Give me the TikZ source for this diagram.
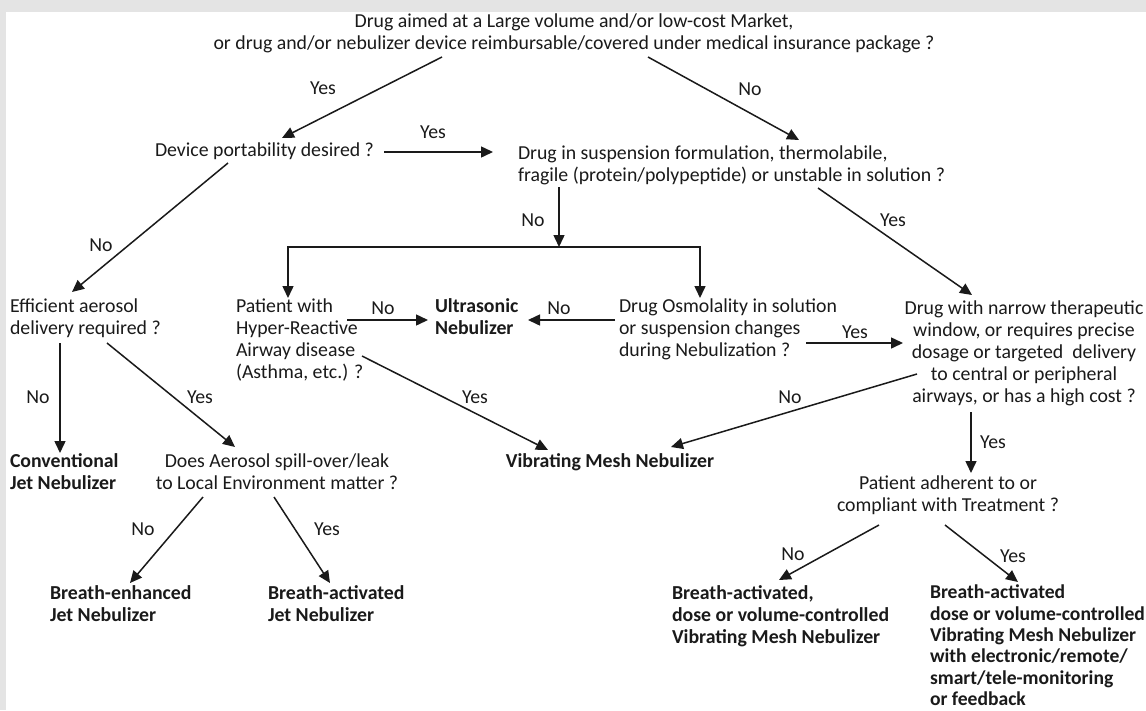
\documentclass[tikz,border=0pt]{standalone}
\usepackage{fontspec}
\setmainfont{Carlito}
\usetikzlibrary{arrows.meta}
\definecolor{bordergray}{HTML}{E4E4E4}
\definecolor{inkc}{HTML}{1A1A1A}
\begin{document}
\begin{tikzpicture}[x=1pt,y=-1pt,
  every node/.style={inner sep=0pt,outer sep=0pt,text=inkc,font=\fontsize{19.8}{22}\selectfont},
  qtext/.style={align=left},
  ctext/.style={align=center},
  restext/.style={align=left,font=\fontsize{19.8}{22}\selectfont\bfseries},
  lbl/.style={anchor=center},
  arr/.style={draw=inkc,line width=1.5pt,-{Triangle[length=12pt,width=11pt]}},
  plain/.style={draw=inkc,line width=1.5pt}]
\useasboundingbox (0,0) rectangle (1146,710);
\fill[bordergray] (0,0) rectangle (1146,710);
\fill[white] (6,12) rectangle (1146,710);

% question / result nodes
\node[ctext,anchor=north] (q1) at (574,14) {Drug aimed at a Large volume and/or low-cost Market,\\or drug and/or nebulizer device reimbursable/covered under medical insurance package ?};
\node[qtext,anchor=north west] (q2) at (155,143) {Device portability desired ?};
\node[qtext,anchor=north west] (q3) at (518,146) {Drug in suspension formulation, thermolabile,\\fragile (protein/polypeptide) or unstable in solution ?};
\node[qtext,anchor=north west] (q4) at (10,299) {Efficient aerosol\\delivery required ?};
\node[qtext,anchor=north west] (q5) at (236,299) {Patient with\\Hyper-Reactive\\Airway disease\\(Asthma, etc.) ?};
\node[restext,anchor=north west] (r1) at (435,299) {Ultrasonic\\Nebulizer};
\node[qtext,anchor=north west] (q6) at (619,299) {Drug Osmolality in solution\\or suspension changes\\during Nebulization ?};
\node[ctext,anchor=north] (q7) at (1024,301) {Drug with narrow therapeutic\\window, or requires precise\\dosage or targeted\ \ delivery\\to central or peripheral\\airways, or has a high cost ?};
\node[restext,anchor=north west] (r2) at (10,454) {Conventional\\Jet Nebulizer};
\node[ctext,anchor=north] (q8) at (277,454) {Does Aerosol spill-over/leak\\to Local Environment matter ?};
\node[restext,anchor=north] (r3) at (610,454) {Vibrating Mesh Nebulizer};
\node[ctext,anchor=north] (q9) at (948,476) {Patient adherent to or\\compliant with Treatment ?};
\node[restext,anchor=north west] (r4) at (50,586) {Breath-enhanced\\Jet Nebulizer};
\node[restext,anchor=north west] (r5) at (268,586) {Breath-activated\\Jet Nebulizer};
\node[restext,anchor=north west] (r6) at (672,586) {Breath-activated,\\dose or volume-controlled\\Vibrating Mesh Nebulizer};
\node[restext,anchor=north west,font=\fontsize{19.6}{21.4}\selectfont\bfseries] (r7) at (930,585) {Breath-activated\\dose or volume-controlled\\Vibrating Mesh Nebulizer\\with electronic/remote/\\smart/tele-monitoring\\or feedback};

% branch junction
\coordinate (j) at (559,247);

% connectors
\draw[arr] ([shift={(-132,43)}]q1.north) -- ([shift={(127,-5)}]q2.north west);
\draw[arr] ([shift={(74,43)}]q1.north) -- ([shift={(281,-6)}]q3.north west);
\draw[arr] ([shift={(229,9)}]q2.north west) -- ([shift={(-25,6)}]q3.north west);
\draw[arr] ([shift={(73,20)}]q2.north west) -- ([shift={(62,-7)}]q4.north west);
\draw[arr] ([shift={(41,41)}]q3.north west) -- (j);
\draw[arr] (j) -| ([shift={(52,-1)}]q5.north west);
\draw[arr] (j) -| ([shift={(81,-1)}]q6.north west);
\draw[arr] ([shift={(300,42)}]q3.north west) -- ([shift={(-52,-6)}]q7.north);
\draw[arr] ([shift={(111,21)}]q5.north west) -- ([shift={(-7,21)}]r1.north west);
\draw[arr] ([shift={(-4,21)}]q6.north west) -- ([shift={(93,21)}]r1.north west);
\draw[arr] ([shift={(187,44)}]q6.north west) -- ([shift={(-121,42)}]q7.north);
\draw[arr] ([shift={(126,57)}]q5.north west) -- ([shift={(-62,-4)}]r3.north);
\draw[arr] ([shift={(-107,73)}]q7.north) -- ([shift={(61,-7)}]r3.north);
\draw[arr] ([shift={(-53,111)}]q7.north) -- ([shift={(23,-3)}]q9.north);
\draw[arr] ([shift={(50,44)}]q4.north west) -- ([shift={(50,-1)}]r2.north west);
\draw[arr] ([shift={(97,44)}]q4.north west) -- ([shift={(-42,-7)}]q8.north);
\draw[arr] ([shift={(-74,43)}]q8.north) -- ([shift={(80,-3)}]r4.north west);
\draw[arr] ([shift={(-3,43)}]q8.north) -- ([shift={(62,-3)}]r5.north west);
\draw[arr] ([shift={(-69,49)}]q9.north) -- ([shift={(107,-6)}]r6.north west);
\draw[arr] ([shift={(-3,49)}]q9.north) -- ([shift={(88,-3)}]r7.north west);

% labels
\node[lbl] (l1) at (323,88) {Yes};
\node[lbl] (l2) at (750,89) {No};
\node[lbl] (l3) at (433,132) {Yes};
\node[lbl] (l4) at (101,245) {No};
\node[lbl] (l5) at (533,220) {No};
\node[lbl] (l6) at (893,220) {Yes};
\node[lbl] (l7) at (383,308) {No};
\node[lbl] (l8) at (559,308) {No};
\node[lbl] (l9) at (855,332) {Yes};
\node[lbl] (l10) at (475,397) {Yes};
\node[lbl] (l11) at (790,397) {No};
\node[lbl] (l12) at (993,442) {Yes};
\node[lbl] (l13) at (38,397) {No};
\node[lbl] (l14) at (200,397) {Yes};
\node[lbl] (l15) at (143,529) {No};
\node[lbl] (l16) at (327,529) {Yes};
\node[lbl] (l17) at (793,554) {No};
\node[lbl] (l18) at (1013,556) {Yes};
\end{tikzpicture}
\end{document}
